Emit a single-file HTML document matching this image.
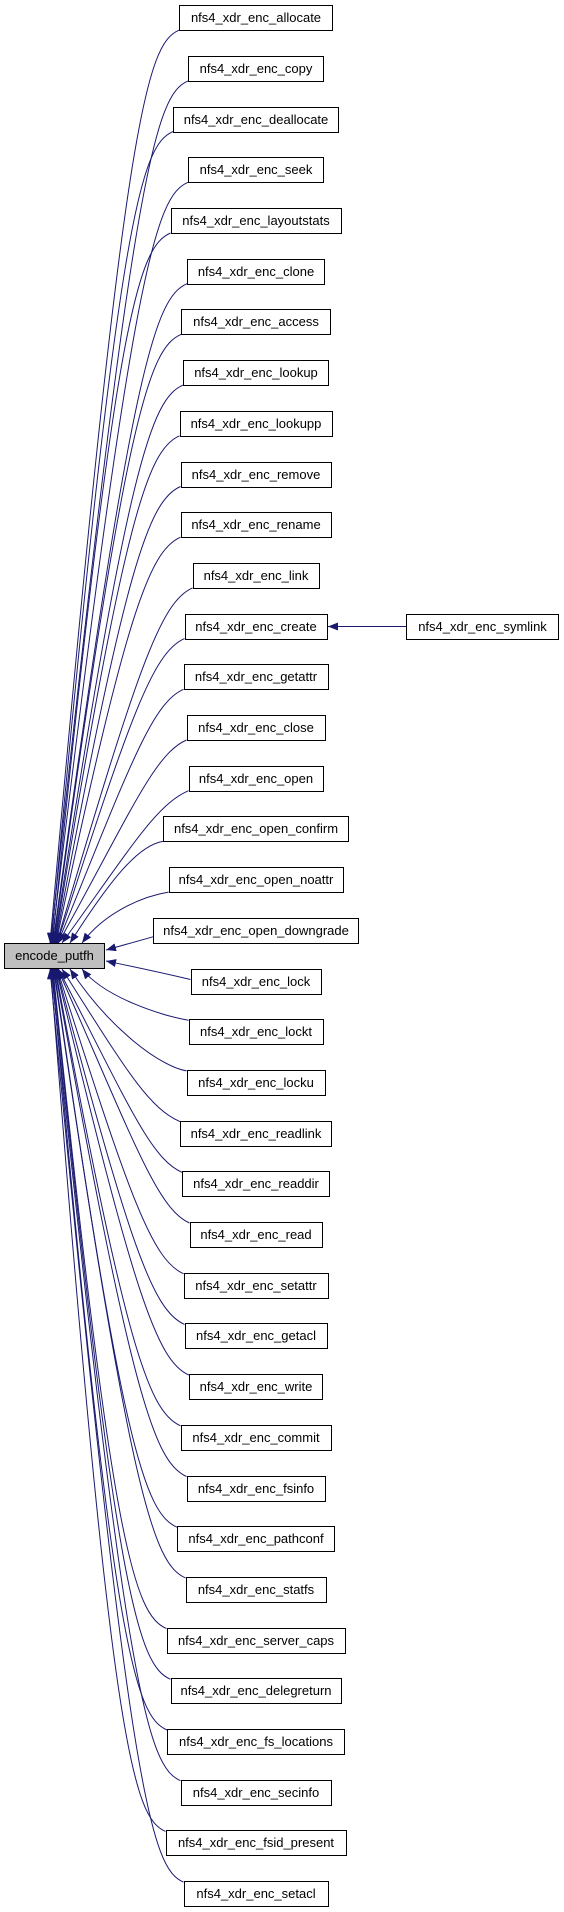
<!DOCTYPE html>
<html><head><meta charset="utf-8"><style>
html,body{margin:0;padding:0;background:#fff;}
body{width:564px;height:1912px;position:relative;overflow:hidden;font-family:"Liberation Sans",Arial,sans-serif;}
.b{position:absolute;box-sizing:border-box;height:26px;border:1px solid #000;background:#fff;font-size:13px;line-height:24px;text-align:center;white-space:nowrap;color:#000;}
svg{position:absolute;left:0;top:0;}
</style></head><body>
<svg id="s" width="564" height="1912" viewBox="0 0 564 1912">
<defs><marker id="a" markerUnits="userSpaceOnUse" viewBox="0 0 10 8" refX="10" refY="4" markerWidth="10" markerHeight="8" orient="auto"><path d="M0,0 L10,4 L0,8 z" fill="#191970"/></marker></defs>
<g id="g" fill="none" stroke="#191970" stroke-width="1"></g>
<path d="M406,626.5 L328,626.5" fill="none" stroke="#191970" marker-end="url(#a)"/>
</svg>
<div class="b" style="left:4px;top:943px;width:101px;background:#bfbfbf;">encode_putfh</div>
<div class="b" style="left:406px;top:613.6px;width:153px;">nfs4_xdr_enc_symlink</div>
<div id="c">
<div class="b">nfs4_xdr_enc_allocate</div>
<div class="b">nfs4_xdr_enc_copy</div>
<div class="b">nfs4_xdr_enc_deallocate</div>
<div class="b">nfs4_xdr_enc_seek</div>
<div class="b">nfs4_xdr_enc_layoutstats</div>
<div class="b">nfs4_xdr_enc_clone</div>
<div class="b">nfs4_xdr_enc_access</div>
<div class="b">nfs4_xdr_enc_lookup</div>
<div class="b">nfs4_xdr_enc_lookupp</div>
<div class="b">nfs4_xdr_enc_remove</div>
<div class="b">nfs4_xdr_enc_rename</div>
<div class="b">nfs4_xdr_enc_link</div>
<div class="b">nfs4_xdr_enc_create</div>
<div class="b">nfs4_xdr_enc_getattr</div>
<div class="b">nfs4_xdr_enc_close</div>
<div class="b">nfs4_xdr_enc_open</div>
<div class="b">nfs4_xdr_enc_open_confirm</div>
<div class="b">nfs4_xdr_enc_open_noattr</div>
<div class="b">nfs4_xdr_enc_open_downgrade</div>
<div class="b">nfs4_xdr_enc_lock</div>
<div class="b">nfs4_xdr_enc_lockt</div>
<div class="b">nfs4_xdr_enc_locku</div>
<div class="b">nfs4_xdr_enc_readlink</div>
<div class="b">nfs4_xdr_enc_readdir</div>
<div class="b">nfs4_xdr_enc_read</div>
<div class="b">nfs4_xdr_enc_setattr</div>
<div class="b">nfs4_xdr_enc_getacl</div>
<div class="b">nfs4_xdr_enc_write</div>
<div class="b">nfs4_xdr_enc_commit</div>
<div class="b">nfs4_xdr_enc_fsinfo</div>
<div class="b">nfs4_xdr_enc_pathconf</div>
<div class="b">nfs4_xdr_enc_statfs</div>
<div class="b">nfs4_xdr_enc_server_caps</div>
<div class="b">nfs4_xdr_enc_delegreturn</div>
<div class="b">nfs4_xdr_enc_fs_locations</div>
<div class="b">nfs4_xdr_enc_secinfo</div>
<div class="b">nfs4_xdr_enc_fsid_present</div>
<div class="b">nfs4_xdr_enc_setacl</div>
</div>
<script>
var W=[154,136,166,136,171,138,150,146,153,151,151,127,143,145,139,135,186,175,206,131,135,139,152,148,133,145,143,134,151,139,158,141,179,171,178,151,181,145];
var boxes=document.getElementById('c').children;
var g=document.getElementById('g');
var d='';
for(var i=0;i<W.length;i++){
 var y=5.2+50.7*i,h=26,w=W[i],L=256-w/2,cy=y+h/2;
 var b=boxes[i];b.style.left=L+'px';b.style.top=y+'px';b.style.width=w+'px';
 var p;
 if(i==18){p='M'+L+','+(cy+6)+' C135,942 120,946 106,950';}
 else if(i==19){p='M'+L+','+(cy-2)+' C150,970 125,965 106,961';}
 else if(i<18){
  var xe=i==17?82:(i==16?70:(i==15?62:50+i*0.6));
  var S=[L,y+h-1];
  var dy=943-S[1];
  var C1=[L-Math.min(32,dy*0.3),S[1]+Math.min(14,dy*0.15)],C2=[L-Math.min(55,dy*0.5),S[1]+Math.min(80,dy*0.35)];
  if(i==17){C1=[L-25,cy+16];C2=[105,912];}
  if(i==16){C1=[L-25,cy+16];C2=[110,880];}
  p='M'+S+' C'+C1+' '+C2+' '+xe+',943';
 } else {
  var xe=i==20?82:(i==21?70:(i==22?62:50+(37-i)*0.6));
  var S=[L,y+1];
  var dy=S[1]-969;
  var C1=[L-Math.min(32,dy*0.3),S[1]-Math.min(14,dy*0.15)],C2=[L-Math.min(55,dy*0.5),S[1]-Math.min(80,dy*0.35)];
  if(i==20){C1=[L-25,cy-16];C2=[105,998];}
  if(i==21){C1=[L-25,cy-16];C2=[110,1030];}
  p='M'+S+' C'+C1+' '+C2+' '+xe+',969';
 }
 d+='<path d="'+p+'" marker-end="url(#a)"/>';
}
g.innerHTML=d;
</script>
</body></html>
